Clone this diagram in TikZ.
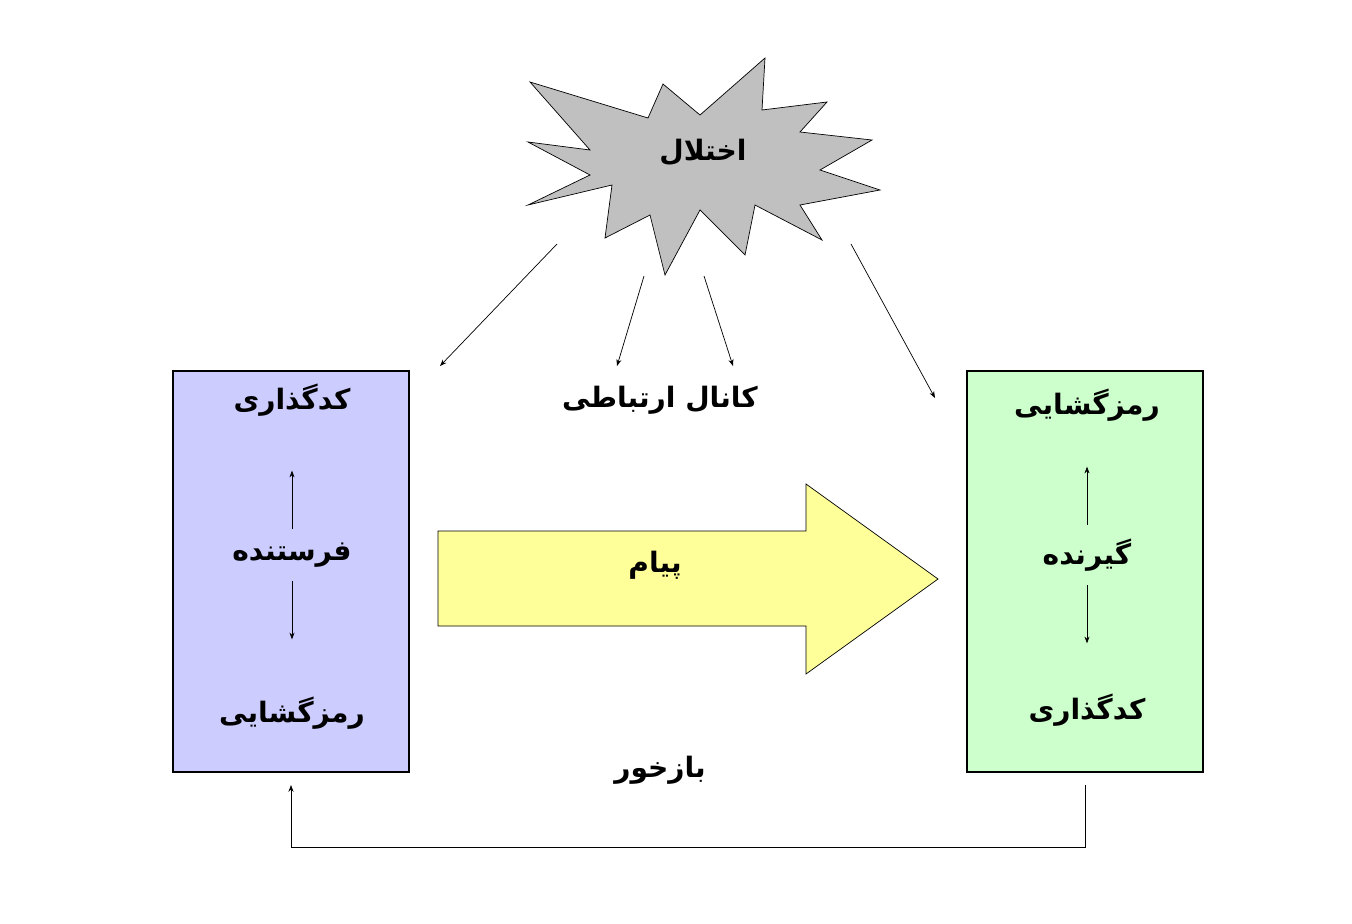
\documentclass[tikz,border=0pt]{standalone}
\usepackage{fontspec}
\newfontfamily\farsi[Script=Arabic]{DejaVu Sans}
\usetikzlibrary{arrows.meta}
\TeXXeTstate=1
\newcommand{\fa}[1]{\beginR#1\endR}
\definecolor{sendblue}{HTML}{CCCCFF}
\definecolor{recvgreen}{HTML}{CCFFCC}
\definecolor{msgyellow}{HTML}{FFFF99}
\definecolor{noisegray}{HTML}{C0C0C0}
\tikzstyle{box} = [rectangle, draw, thick]
\tikzstyle{word} = [font=\farsi\bfseries\fontsize{16}{19}\selectfont, inner sep=1pt]
\tikzset{edge/.style = {
    >=Stealth,
    -{>[scale=0.8]},
  }
}

\begin{document}
\begin{tikzpicture}[x=0.02cm, y=-0.02cm]
            \useasboundingbox (0,0) rectangle (1352,923);
            % boxes
            \draw[box, fill=sendblue] (173,371) rectangle (409,772);
            \draw[box, fill=recvgreen] (967,371) rectangle (1203,772);

            % sender side
            \node[word] (enc1) at (292,400) {\fa{کدگذاری}};
            \node[word] (snd) at (292,555) {\fa{فرستنده}};
            \node[word] (dec1) at (292,713) {\fa{رمزگشایی}};
            % receiver side
            \node[word] (dec2) at (1087,405) {\fa{رمزگشایی}};
            \node[word] (rcv) at (1087,555) {\fa{گیرنده}};
            \node[word] (enc2) at (1087,710) {\fa{کدگذاری}};

            \draw[edge] (snd.north) ++(0,-12) coordinate (a1) (a1) to ++(0,-58);
            \draw[edge] (snd.south) ++(0,12) coordinate (a2) (a2) to ++(0,58);
            \draw[edge] (rcv.north) ++(0,-12) coordinate (a3) (a3) to ++(0,-58);
            \draw[edge] (rcv.south) ++(0,12) coordinate (a4) (a4) to ++(0,58);

            % message arrow
            \draw[fill=msgyellow] (438,531) -- (806,531) -- (806,484) -- (938,579)
              -- (806,674) -- (806,626) -- (438,626) -- cycle;
            \node[word] (msg) at (655,565) {\fa{پیام}};

            % noise
            \draw[fill=noisegray] (530,82) -- (648,118) -- (663,84) -- (700,115)
              -- (765,58) -- (762,110) -- (827,102) -- (800,132) -- (872,140)
              -- (820,170) -- (880,190) -- (800,205) -- (822,240) -- (755,205)
              -- (745,255) -- (700,210) -- (665,275) -- (650,215) -- (605,238)
              -- (612,185) -- (528,205) -- (590,175) -- (528,142) -- (590,150) -- cycle;
            \node[word] (noise) at (703,152) {\fa{اختلال}};

            \node[word] (chan) at (660,400) {\fa{کانال ارتباطی}};
            \node[word] (fb) at (660,770) {\fa{بازخور}};

            %noise lines
            \coordinate (n1) at (557,244);
            \coordinate (n2) at (644,276);
            \coordinate (n3) at (704,276);
            \coordinate (n4) at (851,244);
            \coordinate (t1) at (440,366);
            \coordinate (t2) at (617,366);
            \coordinate (t3) at (733,366);
            \coordinate (t4) at (935,398);
            \draw[edge] (n1) to (t1);
            \draw[edge] (n2) to (t2);
            \draw[edge] (n3) to (t3);
            \draw[edge] (n4) to (t4);

            %feedback
            \coordinate (f1) at (1085,785);
            \coordinate (f2) at (291,785);
            \draw[edge] (f1) |- (688,847) -| (f2);
\end{tikzpicture}
\end{document}
